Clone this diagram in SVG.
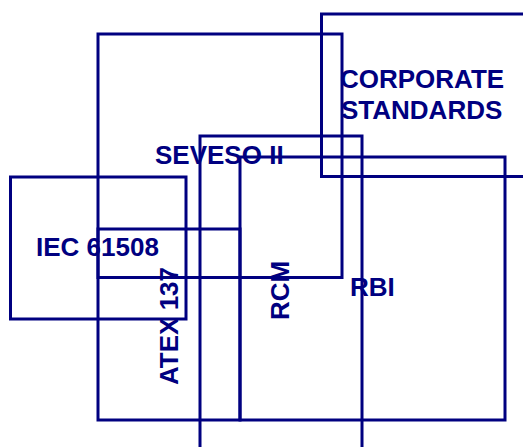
<svg xmlns="http://www.w3.org/2000/svg" width="523" height="447" viewBox="0 0 523 447">
<style>
.b{fill:none;stroke:#000080;stroke-width:3}
.t{font-family:"Liberation Sans",Arial,sans-serif;font-weight:bold;font-size:26px;fill:#000080}
</style>
<rect width="523" height="447" fill="#fff"/>
<g id="corporate"><rect class="b" x="321.5" y="14" width="220" height="162.5"/></g>
<g id="seveso"><rect class="b" x="98" y="34" width="244" height="243.5"/></g>
<g id="rcm"><rect class="b" x="200" y="136" width="162" height="330"/></g>
<g id="rbi"><rect class="b" x="240" y="157" width="265" height="263"/></g>
<g id="atex"><rect class="b" x="98" y="229" width="142" height="191"/></g>
<g id="iec"><rect class="b" x="10.5" y="177" width="175.5" height="142"/></g>
<g id="connectors"></g>
<g id="labels">
<text class="t" x="340" y="88">CORPORATE</text>
<text class="t" x="341" y="119">STANDARDS</text>
<text class="t" x="155" y="164">SEVESO II</text>
<text class="t" x="36" y="256">IEC 61508</text>
<text class="t" x="350" y="296">RBI</text>
<text class="t" transform="translate(178,385) rotate(-90)">ATEX 137</text>
<text class="t" transform="translate(289,320) rotate(-90)">RCM</text>
</g>
</svg>
